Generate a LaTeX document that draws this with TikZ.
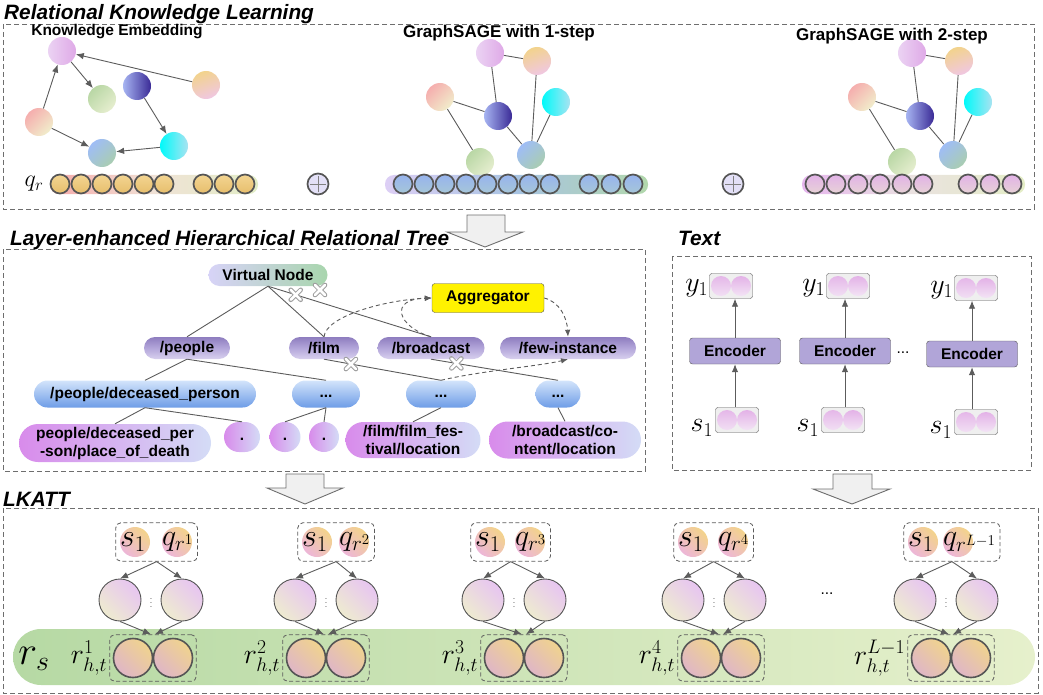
\RequirePackage{fix-cm}
\documentclass[tikz,border=0pt]{standalone}
\usepackage{amsmath}
\usepackage{fontspec}
\setmainfont{Liberation Sans}
\usepackage{xcolor}
\usepackage{tikz}
\usetikzlibrary{arrows.meta,positioning,calc,fit,shapes.misc}

% lines and frames
\definecolor{linegray}{HTML}{5C5C5C}
\definecolor{framegray}{HTML}{6E6E6E}
\definecolor{rimgray}{HTML}{555555}
% entity circles
\definecolor{pinkL}{HTML}{EBD3F3}
\definecolor{pinkR}{HTML}{DFA9E7}
\definecolor{greenT}{HTML}{B9D7A5}
\definecolor{greenB}{HTML}{E6EECF}
\definecolor{navyL}{HTML}{A7B5F2}
\definecolor{navyR}{HTML}{3A2A96}
\definecolor{orangeT}{HTML}{F2D38C}
\definecolor{orangeB}{HTML}{F0C7E2}
\definecolor{salmonT}{HTML}{F5AEAE}
\definecolor{salmonB}{HTML}{F1EDCB}
\definecolor{skyT}{HTML}{9FBDF6}
\definecolor{skyB}{HTML}{A9CDB1}
\definecolor{cyanL}{HTML}{00FAFA}
\definecolor{cyanR}{HTML}{A9E3F1}
% embedding rows
\definecolor{rowoT}{HTML}{F3D592}
\definecolor{rowoB}{HTML}{E7BE6C}
\definecolor{rowbT}{HTML}{97B4EE}
\definecolor{rowbB}{HTML}{A6C6D8}
\definecolor{rowpT}{HTML}{E2B2E7}
\definecolor{rowpB}{HTML}{E7D2D6}
\definecolor{barAL}{HTML}{F5A9A9}
\definecolor{barAM}{HTML}{F0E2D6}
\definecolor{barAR}{HTML}{E2EDC6}
\definecolor{barBL}{HTML}{DDCFF5}
\definecolor{barBM}{HTML}{A7C3E2}
\definecolor{barBR}{HTML}{B2D8AC}
\definecolor{barCL}{HTML}{E6B6EE}
\definecolor{barCM}{HTML}{EAE2E0}
\definecolor{barCR}{HTML}{E4EDC6}
\definecolor{plusfill}{HTML}{E3E0F7}
% relation tree
\definecolor{vnL}{HTML}{D7D3F7}
\definecolor{vnR}{HTML}{A8D5AD}
\definecolor{domtop}{HTML}{8E7DBF}
\definecolor{dommid}{HTML}{B3A6DA}
\definecolor{dombot}{HTML}{D8D0EE}
\definecolor{subtop}{HTML}{D3E4FB}
\definecolor{subbot}{HTML}{6E9DE7}
\definecolor{leafL}{HTML}{D88BEB}
\definecolor{leafR}{HTML}{D4DCF6}
% text encoder
\definecolor{encfill}{HTML}{B1A5D8}
\definecolor{cellbox}{HTML}{EFEFEF}
\definecolor{cellT}{HTML}{E3B2E7}
\definecolor{cellB}{HTML}{F3E4F5}
% LKATT
\definecolor{ballT}{HTML}{F3D38B}
\definecolor{ballB}{HTML}{EDB6D8}
\definecolor{hidT}{HTML}{E7C5F1}
\definecolor{hidB}{HTML}{EEEBD0}
\definecolor{outT}{HTML}{F0D38F}
\definecolor{outB}{HTML}{DFB6C6}
\definecolor{bandL}{HTML}{B6D9A4}
\definecolor{bandR}{HTML}{E6F0CC}

\begin{document}
\begin{tikzpicture}[x=1pt, y=-1pt,
    panel/.style={draw=framegray, line width=0.9pt, dash pattern=on 5pt off 3pt},
    paneltitle/.style={anchor=base west, inner sep=0pt, font=\fontsize{20.8}{21}\selectfont\bfseries\itshape},
    heading/.style={inner sep=0pt, font=\fontsize{15.5}{16}\selectfont\bfseries},
    entity/.style={circle, minimum size=28pt, inner sep=0pt},
    cpink/.style={entity, left color=pinkL, right color=pinkR},
    cgreen/.style={entity, top color=greenT, bottom color=greenB, shading angle=45},
    cnavy/.style={entity, left color=navyL, right color=navyR},
    corange/.style={entity, top color=orangeT, bottom color=orangeB, shading angle=20},
    csalmon/.style={entity, top color=salmonT, bottom color=salmonB, shading angle=45},
    csky/.style={entity, top color=skyT, bottom color=skyB, shading angle=45},
    ccyan/.style={entity, left color=cyanL, right color=cyanR},
    link/.style={draw=linegray, line width=0.9pt},
    arrow/.style={-{Latex[length=8pt, width=6.5pt]}, draw=linegray, line width=0.9pt},
    dasharrow/.style={-{Latex[length=7pt, width=5.5pt]}, draw=linegray, line width=0.9pt, dash pattern=on 4pt off 3pt},
    cell/.style={circle, draw=rimgray, line width=1.7pt, minimum size=19pt, inner sep=0pt},
    oplus/.style={circle, draw=rimgray, line width=1.7pt, minimum size=21pt, inner sep=0pt, fill=plusfill,
        path picture={\draw[gray, line width=0.6pt]
            ([xshift=-8pt]path picture bounding box.center) -- ([xshift=8pt]path picture bounding box.center)
            ([yshift=-8pt]path picture bounding box.center) -- ([yshift=8pt]path picture bounding box.center);}},
    qlab/.style={inner sep=0pt, font=\fontsize{24}{24}\selectfont},
    nodetext/.style={font=\fontsize{15.5}{18}\selectfont\bfseries, inner sep=2pt},
    virtual/.style={rounded rectangle, nodetext, minimum width=123pt, minimum height=22pt, left color=vnL, right color=vnR},
    relation/.style={rounded rectangle, nodetext, minimum height=22pt, top color=domtop, bottom color=dombot, middle color=dommid},
    branch/.style={rounded rectangle, nodetext, minimum height=27pt, top color=subtop, bottom color=subbot},
    leaf/.style={rounded rectangle, nodetext, align=center, left color=leafL, right color=leafR},
    aggregator/.style={nodetext, draw=rimgray, fill=yellow, rounded corners=3pt, minimum width=112pt, minimum height=29pt},
    encoder/.style={nodetext, draw=rimgray, fill=encfill, rounded corners=3pt, minimum width=91pt, minimum height=26pt},
    emb/.style={draw=rimgray, fill=cellbox, rounded corners=2.5pt, minimum width=43pt, minimum height=25pt, inner sep=0pt,
        path picture={
            \shade[top color=cellT, bottom color=cellB] ([xshift=-10pt]path picture bounding box.center) circle (10pt);
            \shade[top color=cellT, bottom color=cellB] ([xshift=10pt]path picture bounding box.center) circle (10pt);}},
    tlab/.style={inner sep=0pt, font=\fontsize{28}{28}\selectfont},
    ball/.style={circle, minimum size=30pt, inner sep=0pt, top color=ballT, bottom color=ballB, shading angle=-45},
    bigmath/.style={inner sep=0pt, font=\fontsize{32}{32}\selectfont},
    hidden/.style={circle, draw=rimgray, line width=0.9pt, minimum size=42pt, inner sep=0pt, top color=hidT, bottom color=hidB, shading angle=-45},
    outball/.style={circle, draw=rimgray, line width=1.6pt, minimum size=39pt, inner sep=0pt, top color=outT, bottom color=outB, shading angle=-45},
    pairbox/.style={draw=linegray, line width=0.8pt, dash pattern=on 4pt off 2.5pt, rounded corners=5pt},
    rlab/.style={inner sep=0pt, font=\fontsize{28}{28}\selectfont},
    bigarrow/.style={draw=framegray, fill=gray!12, line width=0.9pt, line join=miter}
]
\useasboundingbox (0,0) rectangle (1043,695);

% ---------- Relational Knowledge Learning ----------
\draw[panel] (3,24) rectangle (1034,209);
\node[paneltitle] (rkltitle) at (4,20) {Relational Knowledge Learning};

% knowledge embedding graph
\node[cpink] (ke-pink) at (62,51) {};
\node[cgreen] (ke-green) at (102,99) {};
\node[cnavy] (ke-navy) at (137,86) {};
\node[corange] (ke-orange) at (206,85) {};
\node[csalmon] (ke-salmon) at (39,122) {};
\node[csky] (ke-sky) at (102,153) {};
\node[ccyan] (ke-cyan) at (174,146) {};
\draw[arrow] (ke-orange) -- (ke-pink);
\draw[arrow] (ke-pink) -- (ke-green);
\draw[arrow] (ke-salmon) -- (ke-pink);
\draw[arrow] (ke-navy) -- (ke-cyan);
\draw[arrow] (ke-salmon) -- (ke-sky);
\draw[arrow] (ke-cyan) -- (ke-sky);
\node[heading] (ketitle) at (117,32) {Knowledge Embedding};

% GraphSAGE graphs (same layout, shifted)
\foreach \gi/\dx in {1/0, 2/422}{
    \node[cpink] (sage\gi-pink) at (490+\dx,53) {};
    \node[corange] (sage\gi-orange) at (537+\dx,61) {};
    \node[csalmon] (sage\gi-salmon) at (440+\dx,97) {};
    \node[cnavy] (sage\gi-navy) at (498+\dx,116) {};
    \node[ccyan] (sage\gi-cyan) at (556+\dx,102) {};
    \node[cgreen] (sage\gi-green) at (480+\dx,162) {};
    \node[csky] (sage\gi-sky) at (531+\dx,155) {};
    \draw[link] (sage\gi-pink) -- (sage\gi-orange);
    \draw[link] (sage\gi-pink) -- (sage\gi-navy);
    \draw[link] (sage\gi-salmon) -- (sage\gi-navy);
    \draw[link] (sage\gi-salmon) -- (sage\gi-green);
    \draw[link] (sage\gi-navy) -- (sage\gi-sky);
    \draw[link] (sage\gi-orange) -- (sage\gi-sky);
    \draw[link] (sage\gi-cyan) -- (sage\gi-sky);
}
\node[heading, font=\fontsize{17}{17}\selectfont\bfseries] (sage1title) at (499,33) {GraphSAGE with 1-step};
\node[heading, font=\fontsize{17}{17}\selectfont\bfseries] (sage2title) at (892,36) {GraphSAGE with 2-step};

% embedding rows
\node[qlab] (qr) at (34,184) {$q_r$};
\shade[left color=barAL, right color=barAR, middle color=barAM, rounded corners=9pt] (50,175) rectangle (258,194);
\foreach \x [count=\k] in {60,81,102,123,144,164,203,224,245}
    \node[cell, top color=rowoT, bottom color=rowoB] (qcell\k) at (\x,184) {};
\node[oplus] (add1) at (318,184) {};

\shade[left color=barBL, right color=barBR, middle color=barBM, rounded corners=9pt] (385,175) rectangle (648,194);
\foreach \x [count=\k] in {403,424,445,466,487,508,529,550,589,611,633}
    \node[cell, top color=rowbT, bottom color=rowbB] (onecell\k) at (\x,184) {};
\node[oplus] (add2) at (733,184) {};

\shade[left color=barCL, right color=barCR, middle color=barCM, rounded corners=9pt] (802,175) rectangle (1025,194);
\foreach \x [count=\k] in {815,836,858,880,902,923,968,990,1012}
    \node[cell, top color=rowpT, bottom color=rowpB] (twocell\k) at (\x,184) {};

% big arrows
\draw[bigarrow] (467,215) -- (505,215) -- (505,232) -- (523,232) -- (485,247) -- (447,232) -- (467,232) -- cycle;
\draw[bigarrow] (286,474) -- (324,474) -- (324,488) -- (343,488) -- (305,504) -- (267,488) -- (286,488) -- cycle;
\draw[bigarrow] (833,474) -- (872,474) -- (872,489) -- (890,489) -- (852,504) -- (813,489) -- (833,489) -- cycle;

% ---------- Layer-enhanced Hierarchical Relational Tree ----------
\draw[panel] (3,249) rectangle (645,471);
\node[paneltitle] (treetitle) at (10,245) {Layer-enhanced Hierarchical Relational Tree};

\node[virtual] (vn) at (268,275) {Virtual Node};
\node[aggregator] (agg) at (488,298) {Aggregator};
\node[relation, minimum width=90pt] (people) at (187,348) {/people};
\node[relation, minimum width=74pt] (film) at (324,348) {/film};
\node[relation, minimum width=111pt] (broad) at (431,348) {/broadcast};
\node[relation, minimum width=140pt] (few) at (568,348) {/few-instance};
\node[branch, minimum width=226pt] (dead) at (145,394) {/people/deceased\_person};
\node[branch, minimum width=72pt] (sub1) at (326,394) {\strut...};
\node[branch, minimum width=74pt] (sub2) at (441,394) {\strut...};
\node[branch, minimum width=49pt] (sub3) at (558,394) {\strut...};
\node[leaf, minimum width=196pt, minimum height=38pt] (death) at (115,443) {people/deceased\_per\\-son/place\_of\_death};
\node[leaf, minimum width=40pt, minimum height=30pt] (dot1) at (242,437) {\strut.};
\node[leaf, minimum width=35pt, minimum height=30pt] (dot2) at (285,437) {\strut.};
\node[leaf, minimum width=34pt, minimum height=30pt] (dot3) at (324,437) {\strut.};
\node[leaf, minimum width=139pt, minimum height=36pt] (festival) at (413,440) {/film/film\_fes-\\tival/location};
\node[leaf, minimum width=156pt, minimum height=37pt] (content) at (565,440) {/broadcast/co-\\ntent/location};

\draw[link] (vn.south) -- (people.north);
\draw[link] (vn.south) -- (film.north);
\draw[link] (vn.south) -- coordinate[pos=0.17] (cut1) (broad.north);
\draw[link] (people.south) -- (dead.north);
\draw[link] (people.south) -- (sub1.north);
\draw[link] (film.south) -- coordinate[pos=0.23] (cut2) (sub2.north);
\draw[link] (broad.south) -- coordinate[pos=0.2] (cut3) (sub3.north);
\draw[link] (dead.south) -- (death.north);
\draw[link] (dead.south) -- (dot1.north);
\draw[link] (sub1.south) -- (dot2.north);
\draw[link] (sub1.south) -- (dot3.north);
\draw[link] (sub2.south) -- (festival.north);
\draw[link] (sub3.south) -- (content.north);
\coordinate (cut4) at (320,290);

\draw[dasharrow] (film.north) .. controls (326,316) and (385,300) .. (agg.west);
\draw[dasharrow] (broad.north) .. controls (398,327) and (388,299) .. (agg.west);
\draw[dasharrow] (agg.east) .. controls (560,302) and (567,318) .. (few.north);
\draw[dasharrow] (sub2.north) .. controls (480,371) and (540,366) .. (few.south);

\foreach \c in {cut1,cut2,cut3,cut4}{
    \draw[line width=4.6pt, line cap=round, draw=gray!75] ([shift={(-5pt,-5pt)}]\c) -- ([shift={(5pt,5pt)}]\c)
        ([shift={(-5pt,5pt)}]\c) -- ([shift={(5pt,-5pt)}]\c);
    \draw[line width=2.6pt, line cap=round, white] ([shift={(-5pt,-5pt)}]\c) -- ([shift={(5pt,5pt)}]\c)
        ([shift={(-5pt,5pt)}]\c) -- ([shift={(5pt,-5pt)}]\c);
}

% ---------- Text ----------
\draw[panel] (672,256) rectangle (1031,470);
\node[paneltitle] (texttitle) at (678,245) {Text};

\node[emb] (ya) at (731,286) {};
\node[encoder] (enca) at (735,351) {Encoder};
\node[emb] (sa) at (737,420) {};
\node[emb] (yb) at (848,286) {};
\node[encoder] (encb) at (845,351) {Encoder};
\node[emb] (sb) at (843,420) {};
\node[emb] (yc) at (976,288) {};
\node[encoder] (encc) at (972,354) {Encoder};
\node[emb] (sc) at (976,422) {};

\draw[arrow] (sa.north -| enca) -- (enca.south);
\draw[arrow] (enca.north) -- (enca.north |- ya.south);
\draw[arrow] (sb.north -| encb) -- (encb.south);
\draw[arrow] (encb.north) -- (encb.north |- yb.south);
\draw[arrow] (sc.north -| encc) -- (encc.south);
\draw[arrow] (encc.north) -- (encc.north |- yc.south);

\node[tlab, anchor=east] (yla) at ([xshift=-1pt, yshift=-2pt]ya.west) {$y_1$};
\node[tlab, anchor=east] (ylb) at ([xshift=-1pt, yshift=-2pt]yb.west) {$y_1$};
\node[tlab, anchor=east] (ylc) at ([xshift=-1pt, yshift=-2pt]yc.west) {$y_1$};
\node[tlab, anchor=east] (sla) at ([xshift=-2pt, yshift=-8pt]sa.west) {$s_1$};
\node[tlab, anchor=east] (slb) at ([xshift=-2pt, yshift=-8pt]sb.west) {$s_1$};
\node[tlab, anchor=east] (slc) at ([xshift=-2pt, yshift=-8pt]sc.west) {$s_1$};
\node[nodetext, font=\fontsize{15.5}{16}\selectfont] (textdots) at (903,353) {...};

% ---------- LKATT ----------
\draw[panel] (3,508) rectangle (1038,693);
\node[paneltitle] (lkatttitle) at (3,506) {LKATT};

\shade[left color=bandL, right color=bandR, rounded corners=28pt] (13,629) rectangle (1035,685);
\node[rlab, font=\fontsize{40}{40}\selectfont] (rs) at (34,659) {$r_s$};

\foreach \i/\sx/\qx/\mx/\bx/\ex in {1/135/177/151/153/1, 2/317/354/326/326/2, 3/490/530/514/524/3, 4/693/733/714/721/4, 5/923/958/946/951/{L-1}}{
    \node[ball] (s\i) at (\sx,542) {};
    \node[ball] (q\i) at (\qx,542) {};
    \node[bigmath, anchor=west] (st\i) at (s\i.west) {$s_1$};
    \node[bigmath, anchor=west, font=\fontsize{30}{30}\selectfont] (qt\i) at (q\i.west) {$q_{r^{\ex}}$};
    \node[pairbox, inner sep=4pt, fit=(s\i)(qt\i)] (in\i) {};
    \node[hidden] (hl\i) at (\mx-31,600) {};
    \node[hidden] (hr\i) at (\mx+31,600) {};
    \node[inner sep=0pt, font=\scriptsize] (vd\i) at (\mx,600) {$\vdots$};
    \node[outball] (ol\i) at (\bx-20,658) {};
    \node[outball] (or\i) at (\bx+20,658) {};
    \node[pairbox, inner sep=3pt, fit=(ol\i)(or\i)] (out\i) {};
    \node[rlab, anchor=east] (rl\i) at ([xshift=-2pt]out\i.west) {$r^{\ex}_{h,t}$};
    \draw[arrow] (in\i.south) -- (hl\i.north);
    \draw[arrow] (in\i.south) -- (hr\i.north);
    \draw[arrow] (hl\i.south) -- ([xshift=-2pt]out\i.north);
    \draw[arrow] (hr\i.south) -- ([xshift=2pt]out\i.north);
}
\node[nodetext, font=\fontsize{15.5}{16}\selectfont] (unitdots) at (827,594) {...};

\end{tikzpicture}
\end{document}
